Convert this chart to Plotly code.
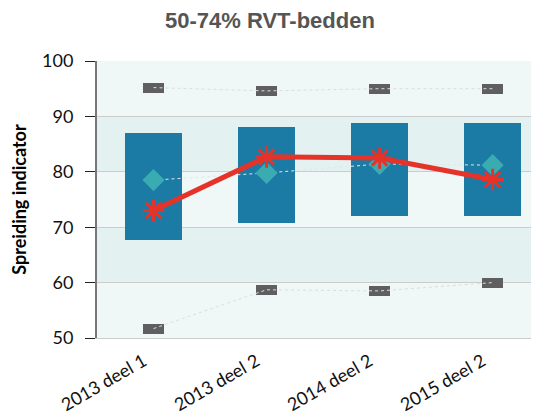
import plotly.graph_objects as go

categories = ["2013 deel 1", "2013 deel 2", "2014 deel 2", "2015 deel 2"]
box_low = [67.7, 70.8, 72.1, 72.1]
box_high = [87.0, 88.1, 88.8, 88.8]
top_marker = [95.2, 94.6, 95.0, 95.0]
bottom_marker = [51.7, 58.7, 58.5, 60.0]
diamond = [78.5, 79.8, 81.4, 81.2]
indicator = [73.0, 82.7, 82.5, 78.6]

xs = list(range(len(categories)))
fig = go.Figure()

fig.add_trace(go.Bar(x=xs, base=box_low, y=[h - l for h, l in zip(box_high, box_low)],
                     width=0.5, marker=dict(color="#1c7ba5", line=dict(width=0)), hoverinfo="skip"))
mh = 1.8
fig.add_trace(go.Bar(x=xs, base=[v - mh / 2 for v in top_marker], y=[mh] * 4, width=0.19,
                     marker=dict(color="#5f5f5f", line=dict(width=0))))
fig.add_trace(go.Bar(x=xs, base=[v - mh / 2 for v in bottom_marker], y=[mh] * 4, width=0.19,
                     marker=dict(color="#5f5f5f", line=dict(width=0))))
for arr in (top_marker, bottom_marker):
    fig.add_trace(go.Scatter(x=xs, y=arr, mode="lines",
                             line=dict(color="#dddddd", width=1, dash="dot")))
fig.add_trace(go.Scatter(x=xs, y=diamond, mode="lines+markers",
                         line=dict(color="#e0e8ea", width=1, dash="dot"),
                         marker=dict(symbol="diamond", size=17, color="#3aabb1")))
fig.add_trace(go.Scatter(x=xs, y=indicator, mode="lines+markers",
                         line=dict(color="#e5332a", width=5),
                         marker=dict(symbol="asterisk-open", size=18,
                                     line=dict(color="#e5332a", width=3))))

shapes = []
band_colors = ["#eff7f7", "#e3f2f1", "#eff7f7", "#e3f2f1", "#eff7f7"]
for i, c in enumerate(band_colors):
    shapes.append(dict(type="rect", xref="paper", yref="y", x0=0, x1=1,
                       y0=50 + 10 * i, y1=60 + 10 * i, fillcolor=c,
                       line=dict(width=0), layer="below"))

fig.update_layout(
    width=539, height=412,
    margin=dict(l=89, r=8, t=53, b=82),
    paper_bgcolor="white", plot_bgcolor="white",
    barmode="overlay", showlegend=False, bargap=0,
    shapes=shapes,
    title=dict(text="<b>50-74% RVT-bedden</b>", x=0.486, xanchor="center", y=0.97, yanchor="middle",
               font=dict(family="Liberation Sans, Arial", size=22, color="#555555")),
    font=dict(family="Lato, Open Sans, sans-serif", color="#111111"),
)
fig.update_xaxes(tickvals=xs, ticktext=categories, range=[-0.5, 3.41], tickangle=-30,
                 tickfont=dict(size=18), showgrid=False, zeroline=False,
                 ticklabelshift=-10, ticklabelstandoff=5, automargin=False,
                 showline=True, linecolor="#cccccc", linewidth=1, ticks="")
fig.update_yaxes(range=[50, 100], dtick=10, tickfont=dict(size=18),
                 showgrid=True, gridcolor="#cccccc", gridwidth=1, zeroline=False,
                 showline=True, linecolor="#777777", linewidth=2,
                 ticks="outside", ticklen=10, tickcolor="#222222", tickwidth=1,
                 ticklabelstandoff=8, automargin=False,
                 title=dict(text="<b>Spreiding indicator</b>", standoff=14,
                            font=dict(size=18, family="Lato, sans-serif", color="#000000")))
fig.write_html("out.html")
